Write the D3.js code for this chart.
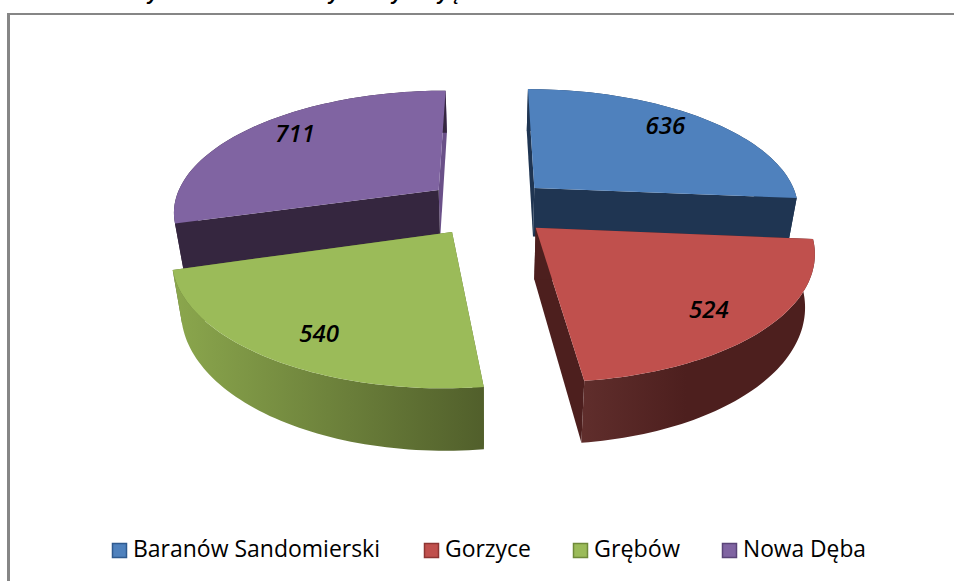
<!DOCTYPE html>
<html>
<head>
<meta charset="utf-8">
<script src="https://cdn.jsdelivr.net/npm/d3@7"></script>
<style>
html,body{margin:0;padding:0;background:#fff;overflow:hidden}
svg{display:block}
</style>
</head>
<body>
<svg id="c" width="954" height="581"></svg>
<script>
// Data
const categories = ["Baranów Sandomierski", "Gorzyce", "Grębów", "Nowa Dęba"];
const values = [636, 524, 540, 711];
const topColors = ["#4f81bd", "#c0504d", "#9bbb59", "#8064a2"];
const legendEdge = ["#2f5a8f", "#8e3533", "#6f8a3a", "#5a4478"];
const wallLeft = ["#1f3552", "#602e2c", "#8ba74d", "#35263f"];
const wallRight = ["#1f3552", "#4d1f1e", "#515f2b", "#35263f"];
const wallStop = [1, 0.45, 1, 1];
const startSideColors = ["#1f3552", "#4d1f1e", "#5b6c31", "#35263f"];
const endSideColors = ["#1f3552", "#4d1f1e", "#5b6c31", "#6a5088"];
// Visible remnants of the clipped title (only descenders survive in the reference)
const titleGlyphs = ["y", "y", "y", "y", "ę"];

// Layout
const W = 954, H = 581;
const cx = 488.5, cy = 207, f = 266, g = 121, k = 0.166, explode = 0.24, depth = 50, shrink = 0.03;
const drawOrder = [0, 3, 2, 1];
const labelShift = [[23, -18], [38, 21], [-26, 27], [-25, -17]];
const legendX = [112, 424, 573, 722];
const legendW = [247, 86, 86, 123];
const titleX = [153, 334, 397, 443, 455];

const svg = d3.select("#c");
const defs = svg.append("defs");

// 3D projection of pie-plane coordinates (u right, v toward the viewer, z down)
function proj(u, v, z) {
  const s = 1 / (1 - k * v);
  return [cx + f * u * s * (1 - shrink * z), cy + g * v * s + depth * z * s];
}

const pie = d3.pie().sort(null).value(d => d);
const arcs = pie(values);
const slices = arcs.map((a, i) => {
  const mid = (a.startAngle + a.endAngle) / 2;
  const ou = explode * Math.sin(mid), ov = -explode * Math.cos(mid);
  const pt = (ang, r, z) => proj(ou + r * Math.sin(ang), ov - r * Math.cos(ang), z);
  const angs = d3.range(0, 61).map(t => a.startAngle + (a.endAngle - a.startAngle) * t / 60);
  return {i, a, mid, pt, angs};
});

const line = d3.line();
const closed = pts => line(pts) + "Z";

slices.forEach(s => {
  const arcTop = s.angs.map(t => s.pt(t, 1, 0));
  const arcBot = s.angs.map(t => s.pt(t, 1, 1));
  const xs = arcTop.map(p => p[0]).concat(arcBot.map(p => p[0]));
  const gid = "wall" + s.i;
  const lg = defs.append("linearGradient").attr("id", gid)
    .attr("gradientUnits", "userSpaceOnUse")
    .attr("x1", d3.min(xs)).attr("x2", d3.max(xs)).attr("y1", 0).attr("y2", 0);
  lg.append("stop").attr("offset", 0).attr("stop-color", wallLeft[s.i]);
  lg.append("stop").attr("offset", wallStop[s.i]).attr("stop-color", wallRight[s.i]);

  const G = svg.append("g").attr("class", "slice");
  const apexT = s.pt(0, 0, 0), apexB = s.pt(0, 0, 1);
  // radial side faces
  [[s.a.endAngle, endSideColors[s.i]], [s.a.startAngle, startSideColors[s.i]]].forEach(([ang, col]) => {
    G.append("path")
      .attr("d", closed([apexT, s.pt(ang, 1, 0), s.pt(ang, 1, 1), apexB]))
      .attr("fill", col);
  });
  // outer wall
  G.append("path")
    .attr("d", closed(arcTop.concat(arcBot.slice().reverse())))
    .attr("fill", `url(#${gid})`);
  // top face
  G.append("path")
    .attr("d", closed([apexT].concat(arcTop)))
    .attr("fill", topColors[s.i]);
});
// repaint in drawing order
const nodes = svg.selectAll("g.slice").nodes();
drawOrder.forEach(i => svg.node().appendChild(nodes[i]));

// value labels
const labelRadius = 0.62;
slices.forEach(s => {
  const p = s.pt(s.mid, labelRadius, 0);
  svg.append("text")
    .attr("x", p[0] + labelShift[s.i][0]).attr("y", p[1] + labelShift[s.i][1])
    .attr("text-anchor", "middle").attr("dominant-baseline", "central")
    .attr("font-family", "'Open Sans', sans-serif").attr("font-style", "italic").attr("font-weight", 600)
    .attr("font-size", 24).attr("fill", "#000")
    .text(values[s.i]);
});

// frame
svg.append("path").attr("d", `M8.5,${H} V13`)
  .attr("fill", "none").attr("stroke", "#868686").attr("stroke-width", 3);
svg.append("path").attr("d", `M7,14 H${W}`)
  .attr("fill", "none").attr("stroke", "#868686").attr("stroke-width", 2);

// clipped title remnants
titleGlyphs.forEach((t, i) => {
  svg.append("text").attr("x", titleX[i]).attr("y", 0)
    .attr("text-anchor", "middle")
    .attr("font-family", "'Liberation Sans', sans-serif").attr("font-weight", 700).attr("font-style", "italic")
    .attr("font-size", 20).attr("fill", "#000").text(t);
});

// legend
categories.forEach((c, i) => {
  svg.append("rect").attr("x", legendX[i] + 0.5).attr("y", 543.5).attr("width", 14).attr("height", 14)
    .attr("fill", topColors[i]).attr("stroke", legendEdge[i]).attr("stroke-width", 1.5);
  svg.append("text").attr("x", legendX[i] + 21).attr("y", 557)
    .attr("font-family", "'Open Sans', sans-serif").attr("font-size", 23).attr("fill", "#000")
    .attr("textLength", legendW[i]).attr("lengthAdjust", "spacingAndGlyphs")
    .text(c);
});
</script>
</body>
</html>
